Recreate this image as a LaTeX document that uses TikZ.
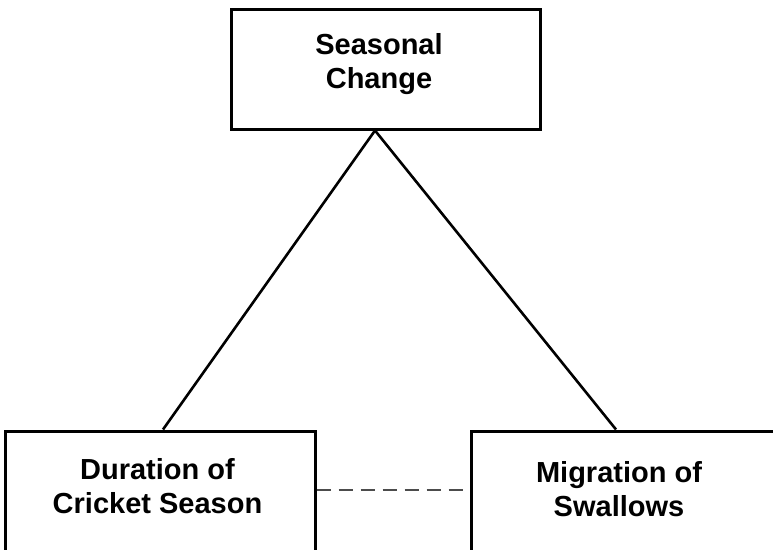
\documentclass[tikz,border=0pt]{standalone}
\usepackage{fontspec}
\setmainfont{Liberation Sans}
\begin{document}
\begin{tikzpicture}[x=1pt,y=-1pt,
  box/.style={draw=black,line width=3pt,inner sep=0pt},
  lbl/.style={align=center,inner sep=0pt,font=\bfseries\fontsize{29}{34}\selectfont},
  link/.style={line width=2.6pt,black},
  weak/.style={line width=1.4pt,draw=black!70,dash pattern=on 14pt off 8pt}]
\useasboundingbox (0,0) rectangle (773,549);
\clip (0,0) rectangle (773,549);
\fill[white] (0,0) rectangle (773,549);
\node[box,minimum width=309pt,minimum height=120pt] (top) at (385.5,69) {};
\node[box,minimum width=310pt,minimum height=169pt] (left) at (160,515.5) {};
\node[box,minimum width=310pt,minimum height=169pt] (right) at (626,515.5) {};
\node[lbl] (toptext) at (379,64.5) {Seasonal\\Change};
\node[lbl] (lefttext) at (157.5,486.5) {Duration of\\Cricket Season};
\node[lbl] (righttext) at (619,489.5) {Migration of\\Swallows};
\coordinate (apex) at ([xshift=-10.5pt]top.south);
\draw[link] (apex) -- ([xshift=3pt]left.north);
\draw[link] (apex) -- ([xshift=-10pt]right.north);
\draw[weak] ([yshift=25.5pt]left.east) -- ([yshift=25.5pt]right.west);
\end{tikzpicture}
\end{document}
